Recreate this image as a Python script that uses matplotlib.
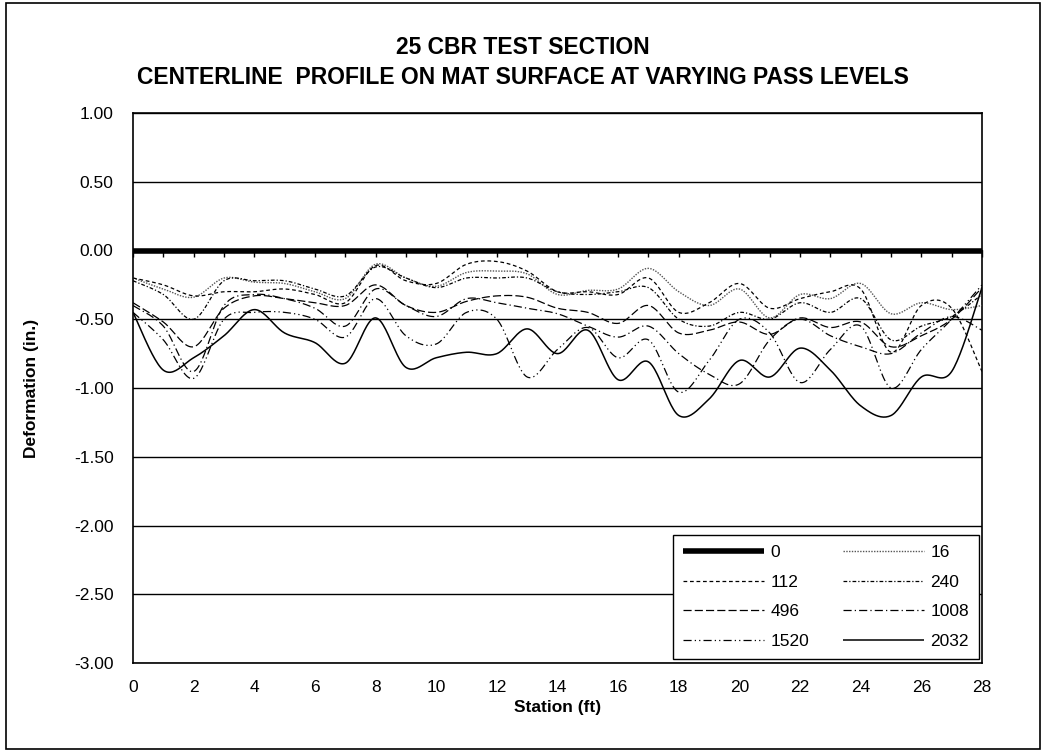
import numpy as np
import matplotlib
matplotlib.use("Agg")
import matplotlib.pyplot as plt
from matplotlib.patches import Rectangle

plt.rcParams['font.family'] = ['Liberation Sans', 'DejaVu Sans']

# station (ft) and deformation (in.), one list per pass level
station = list(range(29))
pass_labels = ['0', '16', '112', '240', '496', '1008', '1520', '2032']

p0 = [0.0] * 29
p16 = [-0.20, -0.28, -0.34, -0.20, -0.23, -0.24, -0.30, -0.35, -0.10, -0.20,
       -0.26, -0.16, -0.15, -0.17, -0.32, -0.29, -0.28, -0.13, -0.30, -0.40,
       -0.28, -0.49, -0.32, -0.35, -0.24, -0.46, -0.38, -0.43, -0.40]
p112 = [-0.20, -0.25, -0.33, -0.30, -0.30, -0.28, -0.32, -0.38, -0.11, -0.22,
        -0.24, -0.10, -0.08, -0.15, -0.30, -0.30, -0.32, -0.20, -0.45, -0.38,
        -0.24, -0.42, -0.35, -0.30, -0.28, -0.74, -0.40, -0.42, -0.88]
p240 = [-0.22, -0.32, -0.50, -0.22, -0.22, -0.22, -0.28, -0.33, -0.12, -0.20,
        -0.27, -0.20, -0.20, -0.20, -0.30, -0.32, -0.30, -0.27, -0.50, -0.55,
        -0.45, -0.50, -0.38, -0.45, -0.35, -0.65, -0.55, -0.48, -0.32]
p496 = [-0.38, -0.52, -0.70, -0.42, -0.33, -0.35, -0.38, -0.40, -0.25, -0.40,
        -0.45, -0.37, -0.33, -0.34, -0.42, -0.45, -0.53, -0.40, -0.60, -0.58,
        -0.52, -0.61, -0.49, -0.56, -0.52, -0.70, -0.62, -0.50, -0.27]
p1008 = [-0.40, -0.55, -0.88, -0.40, -0.32, -0.35, -0.42, -0.55, -0.28, -0.40,
         -0.48, -0.35, -0.38, -0.42, -0.46, -0.55, -0.63, -0.55, -0.75, -0.90,
         -0.97, -0.65, -0.50, -0.62, -0.70, -0.75, -0.60, -0.48, -0.58]
p1520 = [-0.45, -0.65, -0.93, -0.50, -0.45, -0.45, -0.50, -0.63, -0.35, -0.62,
         -0.68, -0.45, -0.50, -0.92, -0.72, -0.56, -0.78, -0.65, -1.03, -0.80,
         -0.50, -0.60, -0.96, -0.72, -0.55, -1.00, -0.72, -0.50, -0.25]
p2032 = [-0.45, -0.87, -0.78, -0.62, -0.43, -0.60, -0.67, -0.82, -0.49, -0.85,
         -0.78, -0.74, -0.75, -0.57, -0.75, -0.58, -0.94, -0.81, -1.20, -1.08,
         -0.80, -0.92, -0.71, -0.87, -1.13, -1.20, -0.92, -0.88, -0.27]

series = [p0, p16, p112, p240, p496, p1008, p1520, p2032]

# line look for each pass level: (colour, width, dash pattern)
styles = [
    ('black', 4.0, None),
    ('#555555', 1.0, (1, 1)),
    ('black', 0.9, (3, 2.2)),
    ('black', 0.9, (3, 1.6, 1, 1.6)),
    ('black', 0.9, (6.5, 2.5)),
    ('black', 0.9, (6.5, 2.5, 1, 2.5)),
    ('black', 0.9, (6.5, 2.5, 1, 2.5, 1, 2.5)),
    ('black', 1.1, None),
]


def smooth(x, y, n=24):
    # excel style smoothed line: bezier through each point, tangents from neighbours
    x = np.asarray(x, float)
    y = np.asarray(y, float)
    px = np.r_[x[0], x, x[-1]]
    py = np.r_[y[0], y, y[-1]]
    t = np.linspace(0, 1, n, endpoint=False)
    xs, ys = [], []
    for i in range(len(x) - 1):
        ax0, ax1, ax2, ax3 = px[i:i + 4]
        ay0, ay1, ay2, ay3 = py[i:i + 4]
        cx1, cy1 = ax1 + (ax2 - ax0) / 6, ay1 + (ay2 - ay0) / 6
        cx2, cy2 = ax2 - (ax3 - ax1) / 6, ay2 - (ay3 - ay1) / 6
        b0, b1, b2, b3 = (1 - t) ** 3, 3 * t * (1 - t) ** 2, 3 * t ** 2 * (1 - t), t ** 3
        xs.append(b0 * ax1 + b1 * cx1 + b2 * cx2 + b3 * ax2)
        ys.append(b0 * ay1 + b1 * cy1 + b2 * cy2 + b3 * ay2)
    xs.append([x[-1]])
    ys.append([y[-1]])
    return np.concatenate(xs), np.concatenate(ys)


fig = plt.figure(figsize=(10.46, 7.54), dpi=100)
ax = fig.add_axes([133 / 1046, 1 - 663 / 754, 849 / 1046, 550 / 754])

handles = {}
for lab, yv, (col, lw, dash) in zip(pass_labels, series, styles):
    sx, sy = smooth(station, yv)
    ln, = ax.plot(sx, sy, color=col, lw=lw, solid_capstyle='butt', zorder=3)
    if dash is not None:
        ln.set_dashes(dash)
    handles[lab] = ln

ax.set_xlim(0, 28)
ax.set_ylim(-3, 1)
ax.set_yticks(np.arange(-3, 1.01, 0.5))
ax.set_yticklabels(['%.2f' % v for v in np.arange(-3, 1.01, 0.5)])
ax.set_xticks(range(0, 29, 2))
ax.tick_params(axis='both', length=0, labelsize=12.5)
ax.tick_params(axis='y', pad=14)
ax.tick_params(axis='x', pad=12)
ax.grid(axis='y', color='black', lw=1.0)
for sp in ax.spines.values():
    sp.set_linewidth(1.2)

# small tick marks on the zero line, like excel's crossing axis
sec = ax.secondary_xaxis(0.75)
sec.set_xticks(range(29))
sec.tick_params(axis='x', direction='in', length=5, width=1, labeltop=False, labelbottom=False)

ax.set_ylabel('Deformation (in.)', fontsize=12.5, fontweight='bold', labelpad=25)
ax.set_xlabel('Station (ft)', fontsize=12.5, fontweight='bold', labelpad=4)

fig.text(0.5, 1 - 47 / 754, '25 CBR TEST SECTION', ha='center', va='center',
         fontsize=16.5, fontweight='bold')
fig.text(0.5, 1 - 78 / 754, 'CENTERLINE  PROFILE ON MAT SURFACE AT VARYING PASS LEVELS',
         ha='center', va='center', fontsize=16.5, fontweight='bold')

order = ['0', '112', '496', '1520', '16', '240', '1008', '2032']
leg = ax.legend([handles[k] for k in order], order, ncol=2, loc='lower right',
                bbox_to_anchor=((979 - 133) / 849, (663 - 659) / 550),
                borderaxespad=0, fontsize=12.5, handlelength=4.7,
                handletextpad=0.35, columnspacing=1.95, labelspacing=0.84,
                borderpad=0.57, fancybox=False, framealpha=1, edgecolor='black')
leg.get_frame().set_linewidth(1.0)

fig.patches.append(Rectangle((6 / 1046, 1 - 749 / 754), 1034 / 1046, 746 / 754,
                             transform=fig.transFigure, fill=False, lw=1.2,
                             edgecolor='black'))

fig.savefig('out.png', dpi=100)
